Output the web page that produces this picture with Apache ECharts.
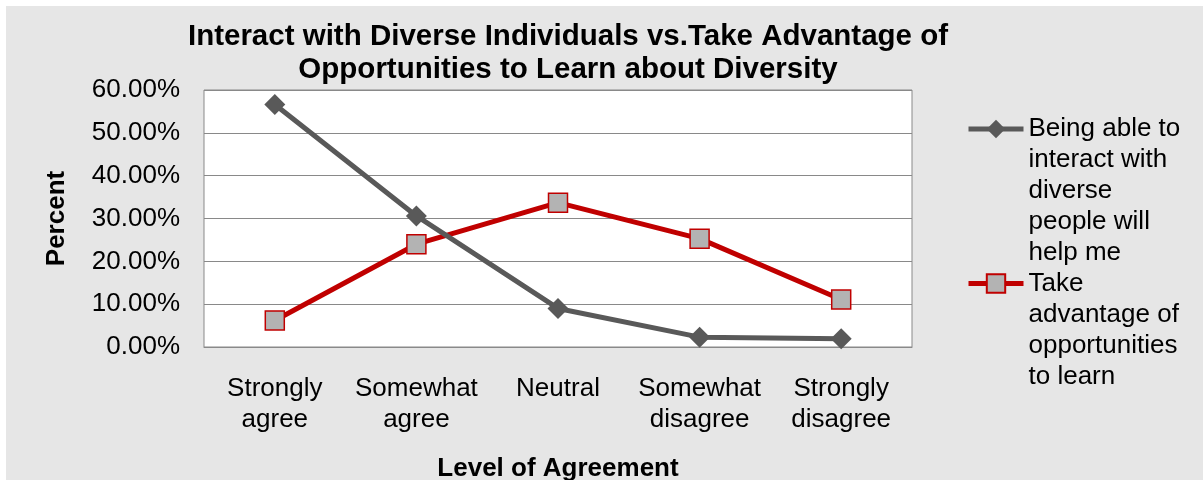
<!DOCTYPE html>
<html><head><meta charset="utf-8">
<script src="https://cdn.jsdelivr.net/npm/echarts@6/dist/echarts.min.js"></script>
<style>
html,body{margin:0;padding:0;background:#fff;width:1203px;height:480px;overflow:hidden}
#chart{position:absolute;left:6px;top:6px;width:1197px;height:474px;}
</style>
</head><body><div id="chart"></div>
<script>
const categories = ['Strongly\nagree', 'Somewhat\nagree', 'Neutral', 'Somewhat\ndisagree', 'Strongly\ndisagree'];
const seriesNames = ['Being able to interact with diverse people will help me', 'Take advantage of opportunities to learn'];
const legendLabels = ['Being able to\ninteract with\ndiverse\npeople will\nhelp me', 'Take\nadvantage of\nopportunities\nto learn'];
const interactValues = [56.6, 30.6, 9.0, 2.3, 1.9];
const learnValues = [6.2, 24.0, 33.7, 25.3, 11.1];
const titleText = 'Interact with Diverse Individuals vs.Take Advantage of\nOpportunities to Learn about Diversity';
const yAxisName = 'Percent';
const xAxisName = 'Level of Agreement';

const FONT = '"Liberation Sans", Arial, sans-serif';
const chart = echarts.init(document.getElementById('chart'), null, {renderer: 'canvas'});
// Pad the label with leading blank lines so its first line sits level with the legend icon.
const legendFmt = name => {
  const label = legendLabels[seriesNames.indexOf(name)];
  const n = label.split('\n').length;
  return '\n'.repeat(n - 1) + label;
};

chart.setOption({
  animation: false,
  backgroundColor: '#e6e6e6',
  title: {
    text: titleText, left: 562, top: 14, textAlign: 'center', padding: 0,
    textStyle: {fontFamily: FONT, fontSize: 29.5, fontWeight: 'bold', lineHeight: 33, color: '#000'}
  },
  legend: [
    {
      data: [seriesNames[0]], left: 960, top: -16.5, padding: 0, orient: 'vertical',
      itemWidth: 55, itemHeight: 23, selectedMode: false, formatter: legendFmt,
      lineStyle: {width: 5},
      textStyle: {fontFamily: FONT, fontSize: 26, lineHeight: 31, color: '#000'}
    },
    {
      data: [seriesNames[1]], left: 960, top: 169, padding: 0, orient: 'vertical',
      itemWidth: 55, itemHeight: 23, selectedMode: false, formatter: legendFmt,
      lineStyle: {width: 5},
      textStyle: {fontFamily: FONT, fontSize: 26, lineHeight: 31, color: '#000'}
    }
  ],
  grid: {
    left: 198, top: 84, right: 291, bottom: 133,
    outerBoundsMode: 'none', containLabel: false,
    show: true, backgroundColor: '#fff', borderColor: '#898989', borderWidth: 1
  },
  xAxis: {
    type: 'category', data: categories, boundaryGap: true,
    axisTick: {show: false},
    axisLine: {lineStyle: {color: '#898989', width: 1}},
    axisLabel: {fontFamily: FONT, fontSize: 26, lineHeight: 31, color: '#000', margin: 26, interval: 0},
    name: xAxisName, nameLocation: 'middle', nameGap: 109,
    nameTextStyle: {fontFamily: FONT, fontSize: 26, fontWeight: 'bold', color: '#000'}
  },
  yAxis: {
    type: 'value', min: 0, max: 60, interval: 10,
    axisLine: {show: false}, axisTick: {show: false},
    splitLine: {lineStyle: {color: '#898989', width: 1}},
    axisLabel: {fontFamily: FONT, fontSize: 26, color: '#000', margin: 24, padding: [4, 0, 0, 0], formatter: v => v.toFixed(2) + '%'},
    name: yAxisName, nameLocation: 'middle', nameGap: 134,
    nameTextStyle: {fontFamily: FONT, fontSize: 26, fontWeight: 'bold', color: '#000'}
  },
  series: [
    {
      type: 'line', name: seriesNames[0], data: interactValues, z: 3,
      symbol: 'diamond', symbolSize: 21, showAllSymbol: true,
      itemStyle: {color: '#595959'},
      lineStyle: {color: '#595959', width: 5}
    },
    {
      type: 'line', name: seriesNames[1], data: learnValues, z: 2,
      symbol: 'rect', symbolSize: 19, showAllSymbol: true,
      itemStyle: {color: '#b3b3b3', borderColor: '#c00000', borderWidth: 1.5},
      lineStyle: {color: '#c00000', width: 5}
    }
  ]
});
</script>
</body></html>
